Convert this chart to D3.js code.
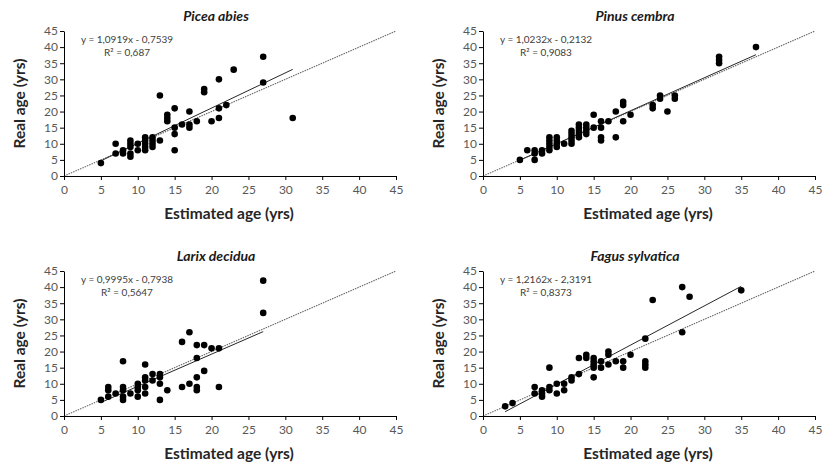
<!DOCTYPE html>
<html>
<head>
<meta charset="utf-8">
<script src="https://cdn.jsdelivr.net/npm/d3@7"></script>
<style>
  html, body { margin: 0; padding: 0; background: #fff; }
  svg { display: block; font-family: Lato, "Open Sans", sans-serif; }
</style>
</head>
<body>
<svg id="chart" width="822" height="467"></svg>
<script>
// Species shown in the four panels (row by row)
const species = ["Picea abies", "Pinus cembra", "Larix decidua", "Fagus sylvatica"];

// Linear fits: slope, intercept and R² for each species
const slopes = [1.0919, 1.0232, 0.9995, 1.2162];
const intercepts = [-0.7539, -0.2132, -0.7938, -2.3191];
const r2 = ["0,687", "0,9083", "0,5647", "0,8373"];
const equationLabels = [
  "y = 1,0919x - 0,7539",
  "y = 1,0232x - 0,2132",
  "y = 0,9995x - 0,7938",
  "y = 1,2162x - 2,3191"
];

// Observations: [estimated age, real age] in years
const piceaAbies = [
  [5,4],[7,10],[7,7],[8,7],[8,8],[9,11],[9,10],[9,9],[9,7],[9,6],[10,10],[10,8],
  [11,12],[11,11],[11,10],[11,9],[11,8],[12,12],[12,11],[12,10],[12,9],[13,25],[13,11],
  [14,19],[14,18],[14,17],[15,21],[15,15],[15,13],[15,8],[16,16],[17,20],[17,16],[17,15],
  [18,17],[19,27],[19,26],[20,17],[21,21],[21,18],[21,30],[22,22],[23,33],[27,37],[27,29],[31,18]
];
const pinusCembra = [
  [5,5],[6,8],[7,8],[7,7],[7,5],[8,8],[8,7],[9,12],[9,11],[9,10],[9,9],[9,8],
  [10,12],[10,11],[10,10],[10,9],[11,10],[12,14],[12,13],[12,12],[12,11],[12,10],
  [13,16],[13,15],[13,14],[13,13],[13,12],[14,16],[14,15],[14,14],[14,13],[15,19],[15,15],
  [16,17],[16,15],[16,12],[16,11],[17,17],[18,20],[18,12],[19,23],[19,22],[19,17],[20,19],
  [23,22],[23,21],[24,25],[24,24],[25,20],[26,25],[26,24],[32,37],[32,36],[32,35],[37,40]
];
const larixDecidua = [
  [5,5],[6,9],[6,8],[6,6],[7,7],[8,17],[8,9],[8,8],[8,6],[8,5],[9,7],
  [10,10],[10,9],[10,8],[10,6],[11,16],[11,12],[11,11],[11,9],[11,7],[12,13],[12,11],
  [13,13],[13,12],[13,10],[13,5],[14,8],[16,23],[16,9],[17,26],[17,10],
  [18,22],[18,18],[18,12],[18,9],[18,8],[19,22],[19,14],[20,21],[21,21],[21,9],[27,42],[27,32]
];
const fagusSylvatica = [
  [3,3],[4,4],[7,9],[7,7],[8,8],[8,7],[8,6],[9,15],[9,9],[9,8],[10,10],[10,7],
  [11,10],[11,8],[12,12],[12,11],[13,18],[13,13],[14,19],[14,18],[15,18],[15,17],[15,16],
  [15,15],[15,12],[16,17],[16,15],[17,20],[17,19],[17,16],[18,17],[19,17],[19,15],[20,19],
  [22,24],[22,17],[22,16],[22,15],[23,36],[27,40],[27,26],[28,37],[35,39]
];
const observations = [piceaAbies, pinusCembra, larixDecidua, fagusSylvatica];

// Shared axis ticks
const tickValues = [0, 5, 10, 15, 20, 25, 30, 35, 40, 45];
const xLabel = "Estimated age (yrs)";
const yLabel = "Real age (yrs)";

const svg = d3.select("#chart");

// Plot-area placement for the 2 x 2 grid
const plotW = 332, plotH = 145;
const lefts = [64, 483];
const bottoms = [176, 416];

observations.forEach((data, i) => {
  const col = i % 2, row = Math.floor(i / 2);
  const x0 = lefts[col], yb = bottoms[row];

  const x = d3.scaleLinear().domain([0, 45]).range([x0, x0 + plotW]);
  const y = d3.scaleLinear().domain([0, 45]).range([yb, yb - plotH]);

  const g = svg.append("g");

  // 1:1 reference line
  g.append("line")
    .attr("x1", x(0)).attr("y1", y(0))
    .attr("x2", x(45)).attr("y2", y(45))
    .attr("stroke", "#666")
    .attr("stroke-width", 1.1)
    .attr("stroke-dasharray", "1.5,1");

  // Fitted regression line over the observed range
  const [xmin, xmax] = d3.extent(data, d => d[0]);
  const fit = v => slopes[i] * v + intercepts[i];
  g.append("line")
    .attr("x1", x(xmin)).attr("y1", y(fit(xmin)))
    .attr("x2", x(xmax)).attr("y2", y(fit(xmax)))
    .attr("stroke", "#262626")
    .attr("stroke-width", 1);

  // Observations
  g.append("g").selectAll("circle")
    .data(data)
    .join("circle")
    .attr("cx", d => x(d[0]))
    .attr("cy", d => y(d[1]))
    .attr("r", 3.3)
    .attr("fill", "#000");

  // Axes
  const xAxis = g.append("g")
    .attr("transform", `translate(0,${yb})`)
    .call(d3.axisBottom(x).tickValues(tickValues).tickSize(4).tickSizeOuter(0));
  const yAxis = g.append("g")
    .attr("transform", `translate(${x0},0)`)
    .call(d3.axisLeft(y).tickValues(tickValues).tickSize(4).tickSizeOuter(0));

  [xAxis, yAxis].forEach(a => {
    a.select(".domain").attr("stroke", "#000").attr("stroke-width", 1);
    a.selectAll(".tick line").attr("stroke", "#000");
    a.selectAll(".tick text")
      .attr("fill", "#595959")
      .style("font-size", "12px")
      .style("font-family", "Lato, 'Open Sans', sans-serif");
  });
  xAxis.selectAll(".tick text").attr("dy", "0.95em");
  yAxis.selectAll(".tick text").attr("x", -6);

  // Panel title
  g.append("text")
    .attr("x", x0 + plotW / 2 - 14)
    .attr("y", yb - plotH - 10)
    .attr("text-anchor", "middle")
    .attr("fill", "#1a1a1a")
    .style("font-size", "14px")
    .style("font-weight", "bold")
    .style("font-style", "italic")
    .text(species[i]);

  // Fit equation and R²
  const eqX = x0 + 63;
  g.append("text")
    .attr("x", eqX).attr("y", yb - plotH + 12)
    .attr("text-anchor", "middle")
    .attr("fill", "#404040")
    .style("font-size", "10px")
    .text(equationLabels[i]);
  g.append("text")
    .attr("x", eqX).attr("y", yb - plotH + 25)
    .attr("text-anchor", "middle")
    .attr("fill", "#404040")
    .style("font-size", "10px")
    .text("R² = " + r2[i]);

  // Axis titles
  g.append("text")
    .attr("x", x0 + plotW / 2 - 1)
    .attr("y", yb + 43)
    .attr("text-anchor", "middle")
    .attr("fill", "#262626")
    .style("font-size", "15.5px")
    .style("font-weight", "bold")
    .text(xLabel);
  g.append("text")
    .attr("transform", `translate(${x0 - 39},${yb - plotH / 2}) rotate(-90)`)
    .attr("text-anchor", "middle")
    .attr("fill", "#262626")
    .style("font-size", "15.5px")
    .style("font-weight", "bold")
    .text(yLabel);
});
</script>
</body>
</html>
